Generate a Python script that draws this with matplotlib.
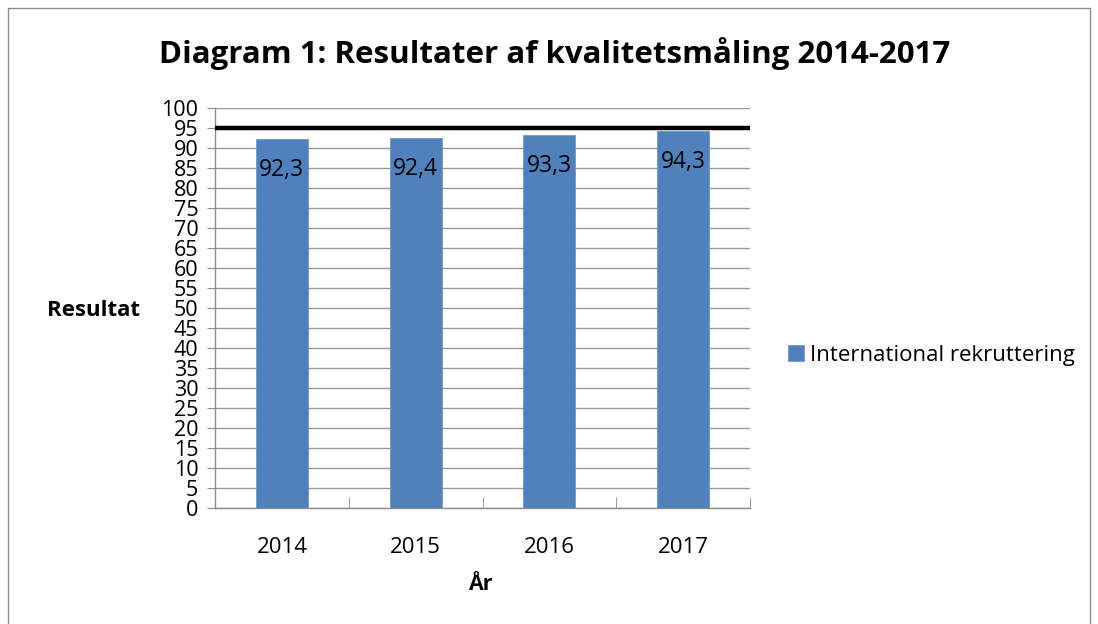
import matplotlib.pyplot as plt
from matplotlib.patches import Rectangle
from matplotlib.ticker import FixedLocator

plt.rcParams['font.family'] = ['Open Sans', 'DejaVu Sans']

years = ['2014', '2015', '2016', '2017']
results = [92.3, 92.4, 93.3, 94.3]
labels = ['92,3', '92,4', '93,3', '94,3']
target = 95
series_name = 'International rekruttering'

fig = plt.figure(figsize=(10.98, 6.24), dpi=100)
ax = fig.add_axes([215 / 1098, 1 - 508 / 624, (750 - 215) / 1098, 400 / 624])

x = list(range(len(years)))
bars = ax.bar(x, results, width=0.39, color='#4F81BD', edgecolor='#6d97cc',
              linewidth=0.6, label=series_name, zorder=2)
ax.axhline(target, color='black', linewidth=3.2, zorder=3)

for xi, v, lab in zip(x, results, labels):
    ax.annotate(lab, (xi, v), xytext=(0, -31), textcoords='offset pixels',
                ha='center', va='center', fontsize=16.5, color='black', zorder=4)

ax.set_xlim(-0.5, len(years) - 0.5)
ax.set_ylim(0, 100)
ax.set_yticks(range(0, 101, 5))
ax.tick_params(axis='y', labelsize=15.5, length=6, color='#8c8c8c', pad=6)
ax.set_xticks(x)
ax.set_xticklabels(years)
ax.tick_params(axis='x', which='major', length=0, labelsize=16, pad=21)
ax.xaxis.set_minor_locator(FixedLocator([0.5, 1.5, 2.5, 3.5]))
ax.tick_params(axis='x', which='minor', direction='in', length=8, color='#8c8c8c')

ax.grid(axis='y', color='#9a9a9a', linewidth=1.0, zorder=0)
ax.set_axisbelow(True)
for side in ['top', 'right']:
    ax.spines[side].set_visible(False)
for side in ['left', 'bottom']:
    ax.spines[side].set_color('#8c8c8c')
    ax.spines[side].set_linewidth(1.0)

fig.text(47 / 1098, 1 - 311 / 624, 'Resultat', fontsize=16, fontweight='bold',
         ha='left', va='center')
fig.text(480 / 1098, 1 - 585 / 624, 'År', fontsize=15.5, fontweight='bold',
         ha='center', va='center')
fig.text(555 / 1098, 1 - 53 / 624, 'Diagram 1: Resultater af kvalitetsmåling 2014-2017',
         fontsize=22.5, fontweight='bold', ha='center', va='center')

fig.legend(handles=[bars], labels=[series_name], loc='center left',
           bbox_to_anchor=(768 / 1098, 1 - 355 / 624), frameon=False,
           fontsize=16, handlelength=0.7, handleheight=0.7, handletextpad=0.3)

fig.patches.append(Rectangle((8 / 1098, -0.05), 1082 / 1098, 1.05 - 8 / 624,
                             transform=fig.transFigure, fill=False,
                             edgecolor='#8c8c8c', linewidth=1.0))

fig.savefig('out.png', dpi=100)
